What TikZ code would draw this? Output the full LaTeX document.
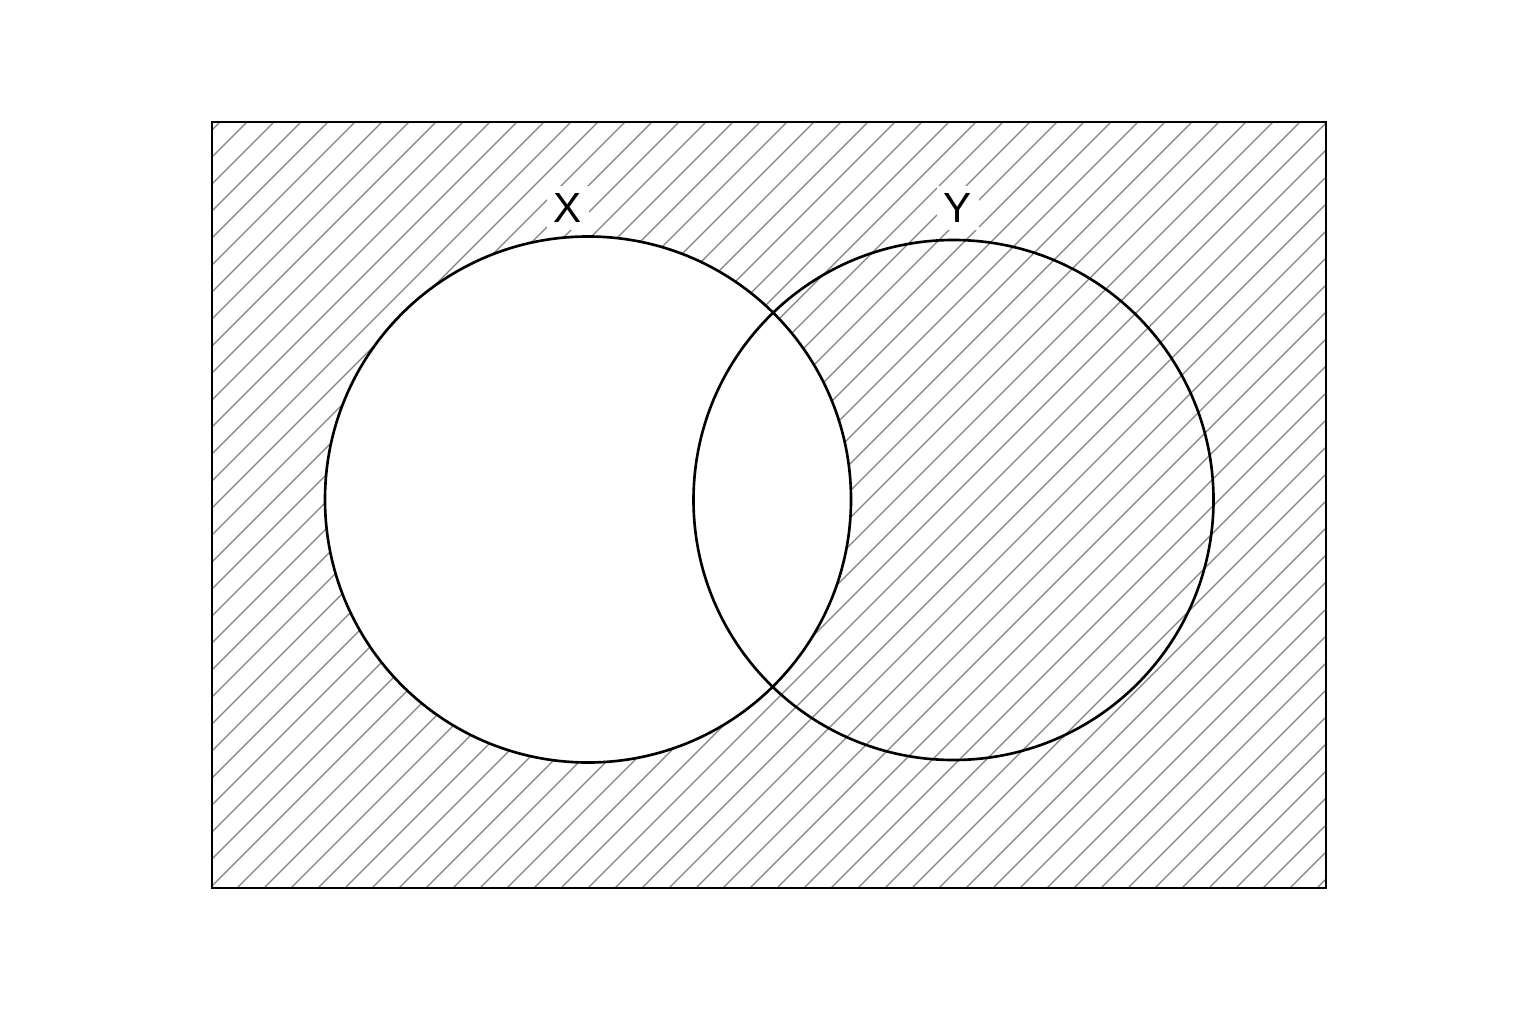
\documentclass[tikz,border=0pt]{standalone}
\usepackage{fontspec}
\setmainfont{Liberation Sans}
\usepackage{tikz}

\begin{document}
\begin{tikzpicture}[
		scale=1,
		every node/.style={circle, draw, line width=0.75pt, minimum size=5.26cm, inner sep=0pt},
		hatch/.style={gray, line width=0.35pt},
		set_label/.style={rectangle, draw=none, fill=white, minimum size=0pt, inner sep=2pt, font=\fontsize{12}{14}\selectfont}
	]
  \useasboundingbox (0cm, 0cm) rectangle (15.36cm, 10.24cm);
  % complement of X, hatched
  \begin{scope}[even odd rule]
    \clip (2.12cm, 1.36cm) rectangle (13.26cm, 9.02cm) (5.88cm, 5.245cm) circle (2.63cm);
    \foreach \k in {0,...,70}
      \draw[hatch] ({-5.46+0.27*\k}, 1.36) -- ++(7.66, 7.66);
  \end{scope}
  \draw[line width=0.8pt] (2.12cm, 1.36cm) rectangle (13.26cm, 9.02cm);
  \node (set_x) at (5.88cm, 5.245cm) {};
  \node (set_y) [minimum size=5.2cm] at (9.535cm, 5.24cm) {};
  \node (set_x_label) [set_label] at (5.68cm, 8.16cm) {X};
  \node (set_y_label) [set_label] at (9.58cm, 8.16cm) {Y};
\end{tikzpicture}
\end{document}
